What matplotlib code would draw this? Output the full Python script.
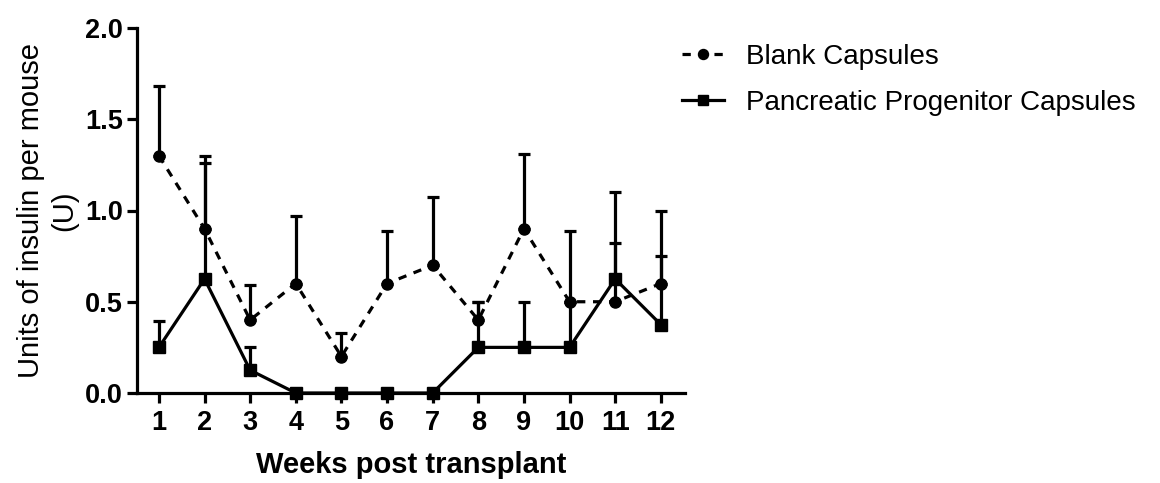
import numpy as np
import matplotlib.pyplot as plt

plt.rcParams['font.family'] = ['Liberation Sans', 'DejaVu Sans']

weeks = np.arange(1, 13)
blank = [1.3, 0.9, 0.4, 0.6, 0.2, 0.6, 0.7, 0.4, 0.9, 0.5, 0.5, 0.6]
blank_err = [0.38, 0.40, 0.19, 0.37, 0.13, 0.29, 0.375, 0.10, 0.41, 0.39, 0.32, 0.40]
progenitor = [0.25, 0.625, 0.125, 0, 0, 0, 0, 0.25, 0.25, 0.25, 0.625, 0.375]
progenitor_err = [0.146, 0.635, 0.129, 0, 0, 0, 0, 0.25, 0.25, 0.25, 0.475, 0.375]

fig = plt.figure(figsize=(11.6, 4.83), dpi=100)
ax = fig.add_axes([137 / 1160, 1 - 393 / 483, (685 - 137) / 1160, (393 - 28) / 483])

lw = 2.3
ax.errorbar(weeks, blank, yerr=[np.zeros(12), blank_err], fmt='none', ecolor='black',
            elinewidth=lw, capsize=4, capthick=lw, zorder=2)
ax.errorbar(weeks, progenitor, yerr=[np.zeros(12), progenitor_err], fmt='none', ecolor='black',
            elinewidth=lw, capsize=4, capthick=lw, zorder=2)
ax.plot(weeks, blank, color='black', linestyle=(0, (2.6, 2.4)), linewidth=lw,
        marker='o', markersize=8, label='Blank Capsules', zorder=3, clip_on=False)
ax.plot(weeks, progenitor, color='black', linestyle='-', linewidth=lw,
        marker='s', markersize=8.5, label='Pancreatic Progenitor Capsules', zorder=3, clip_on=False)

ax.set_xlim(0.52, 12.53)
ax.set_ylim(0, 2.0)
ax.set_xticks(weeks)
ax.set_yticks([0, 0.5, 1.0, 1.5, 2.0])
ax.set_yticklabels(['0.0', '0.5', '1.0', '1.5', '2.0'])

for side in ['top', 'right']:
    ax.spines[side].set_visible(False)
for side in ['left', 'bottom']:
    ax.spines[side].set_linewidth(2.3)
ax.tick_params(axis='both', width=2.3, length=7, labelsize=19.5, pad=3)
ax.tick_params(axis='x', pad=5)
for lbl in ax.get_xticklabels() + ax.get_yticklabels():
    lbl.set_fontweight('bold')

ax.set_xlabel('Weeks post transplant', fontsize=21, fontweight='bold', labelpad=11)
ax.set_ylabel('Units of insulin per mouse\n(U)', fontsize=21, linespacing=1.25, labelpad=5)

ax.legend(loc='upper left', bbox_to_anchor=(668 / 1160, 1 - 30 / 483),
          bbox_transform=fig.transFigure, frameon=False, fontsize=20,
          handlelength=1.5, handletextpad=0.8, labelspacing=0.72, borderpad=0,
          markerscale=0.9)

fig.savefig('out.png', dpi=100)
